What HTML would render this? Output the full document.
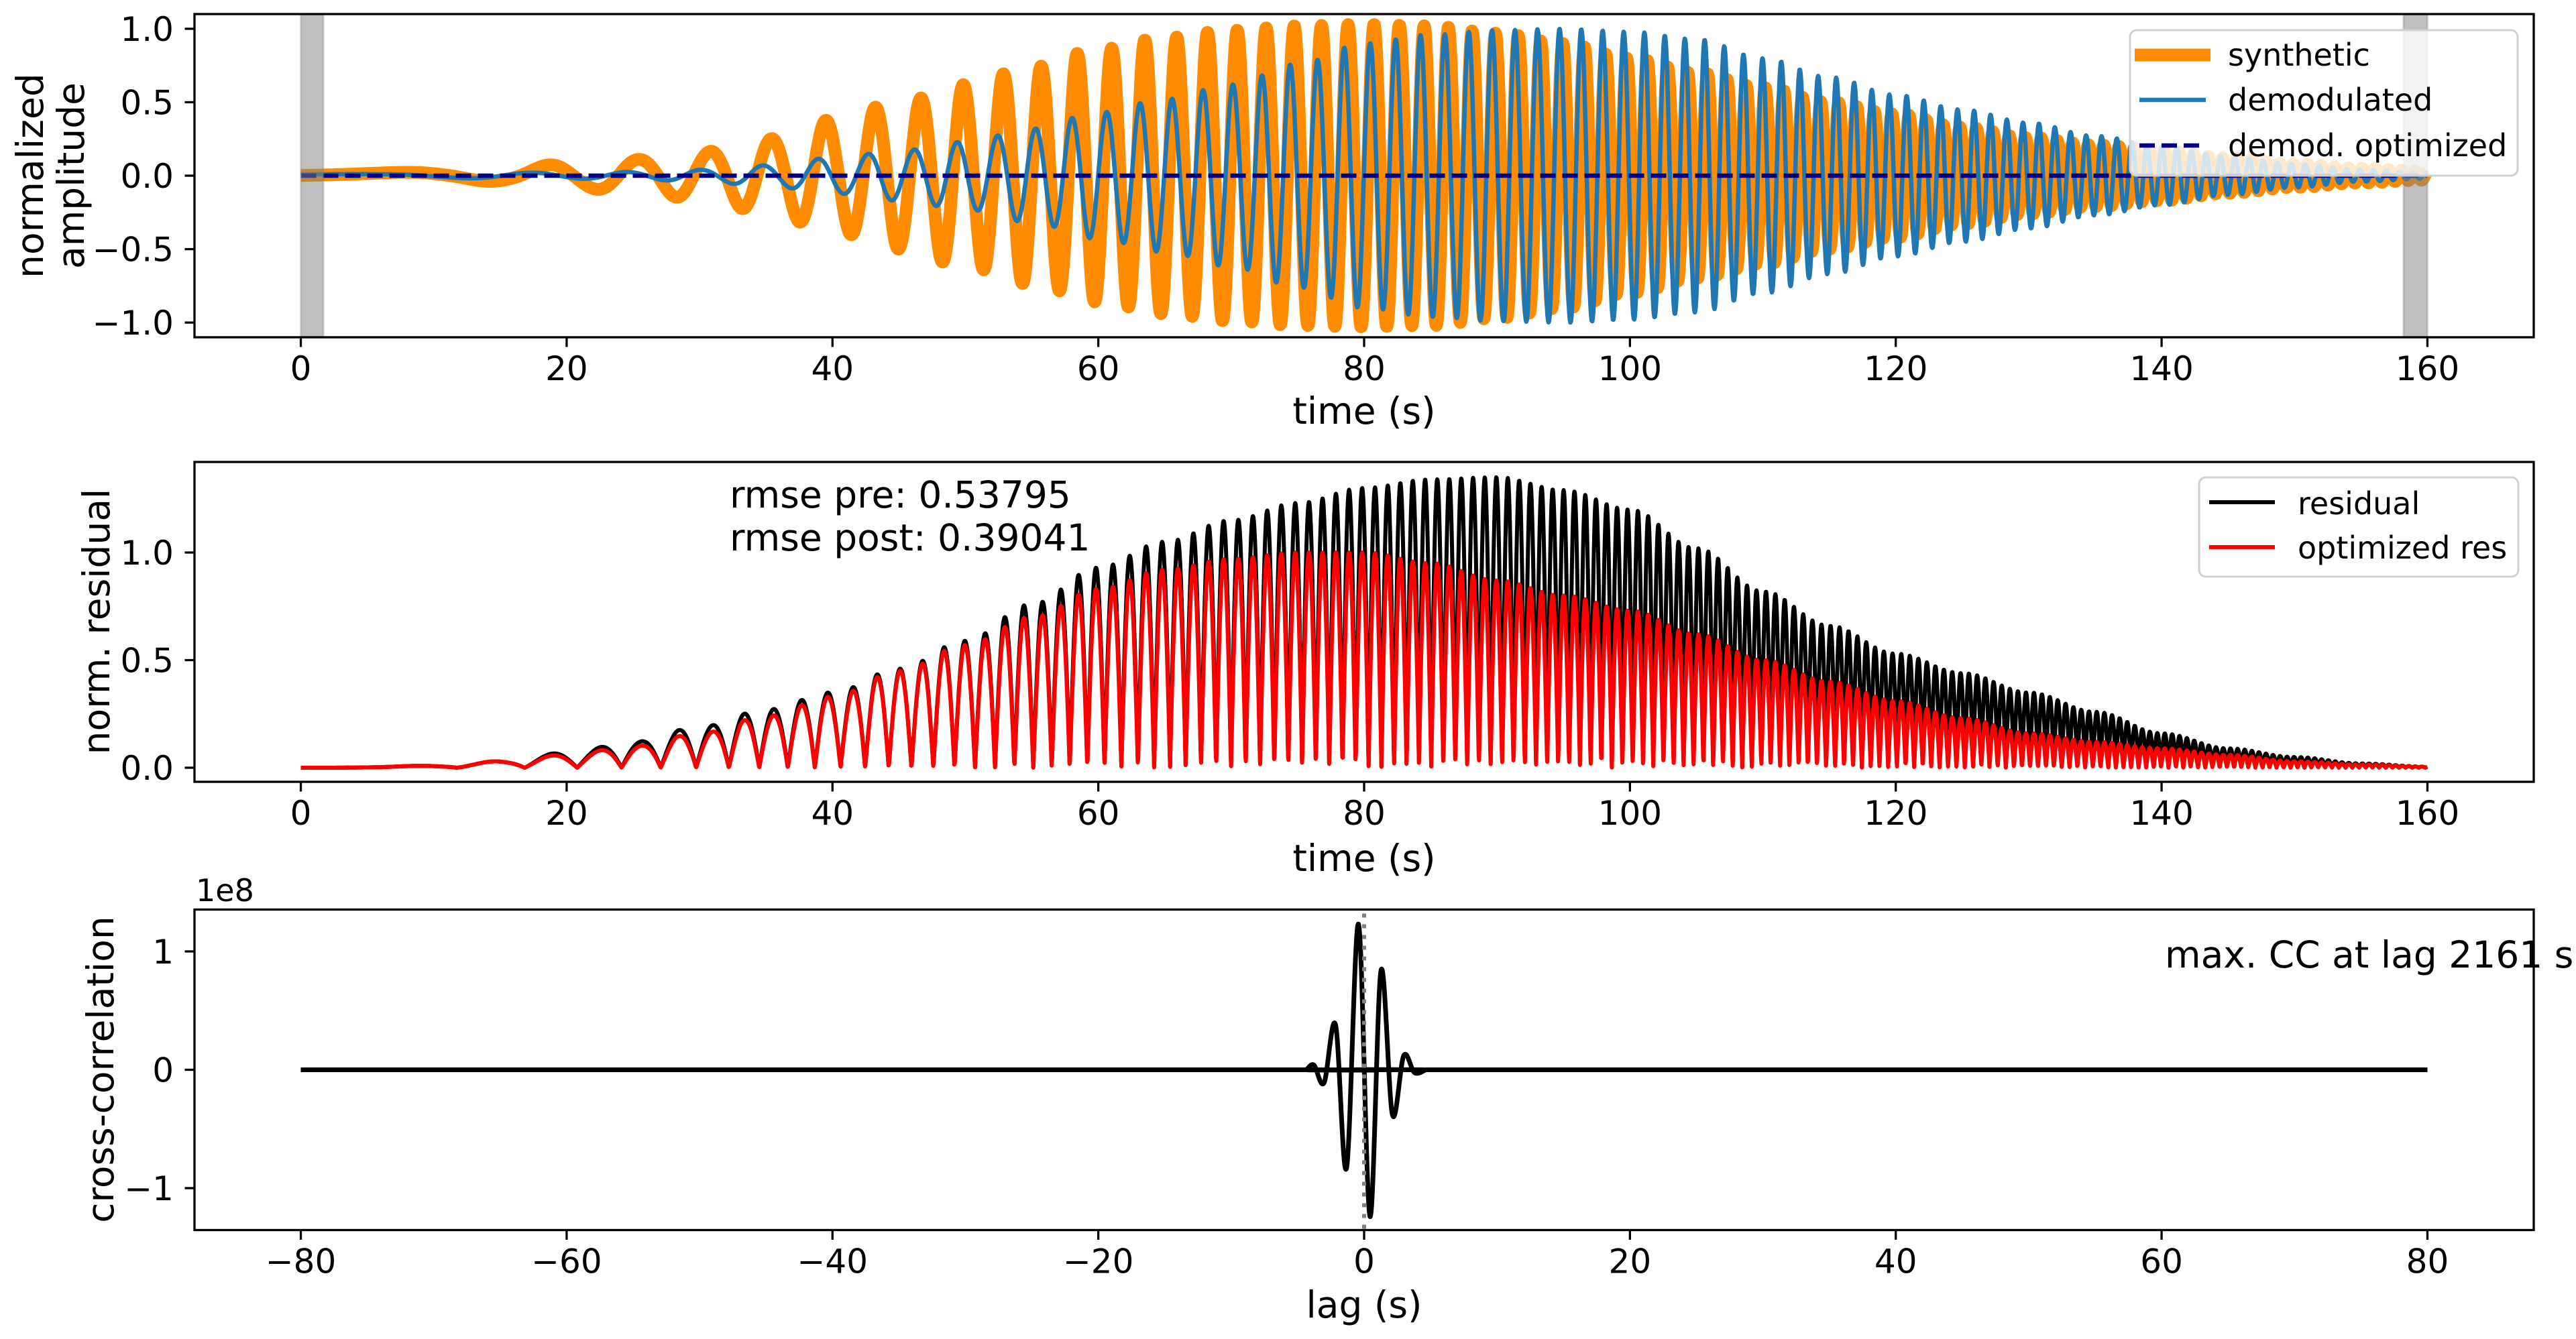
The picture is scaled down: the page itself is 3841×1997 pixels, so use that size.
<!DOCTYPE html>
<html><head><meta charset="utf-8"><style>
html,body{margin:0;padding:0;background:#fff;}
svg{display:block;font-family:"DejaVu Sans","Liberation Sans",sans-serif;}
</style></head>
<body>
<svg id="fig" width="3841" height="1997" viewBox="0 0 3841 1997" xmlns="http://www.w3.org/2000/svg">
<rect width="3841" height="1997" fill="#fff"/>
</svg>
<script>
// ---------- data ----------
const envTimes   = [0,5,10,15,20,25,30,35,40,45,50,55,60,65,70,75,80,85,90,95,100,105,110,115,120,125,130,135,140,145,150,155,160];
const synthEnv   = [0.02,0.02,0.025,0.04,0.08,0.11,0.16,0.25,0.38,0.5,0.62,0.74,0.86,0.94,0.99,1.02,1.03,1.02,0.97,0.9,0.8,0.7,0.6,0.5,0.42,0.33,0.26,0.21,0.17,0.12,0.08,0.05,0.03];
const demodEnv   = [0.01,0.01,0.015,0.02,0.02,0.025,0.04,0.07,0.12,0.17,0.23,0.32,0.43,0.52,0.62,0.76,0.9,0.96,0.99,1.0,0.98,0.93,0.8,0.67,0.55,0.45,0.36,0.27,0.2,0.13,0.08,0.04,0.02];
const residEnv   = [0,0.003,0.01,0.03,0.07,0.12,0.19,0.27,0.35,0.46,0.59,0.76,0.93,1.05,1.15,1.23,1.3,1.34,1.35,1.29,1.2,1.02,0.82,0.66,0.53,0.44,0.35,0.26,0.16,0.09,0.05,0.02,0.005];
const optResEnv  = [0,0.003,0.01,0.03,0.06,0.1,0.16,0.24,0.33,0.45,0.57,0.7,0.83,0.92,0.97,1.0,1.0,0.95,0.87,0.8,0.73,0.62,0.5,0.4,0.31,0.23,0.16,0.12,0.09,0.06,0.03,0.015,0.005];
const chirpA = 0.0076, chirpB = 0.003163;   // carrier phase (cycles) = a*t + b*t^2
const synthPhase0 = 0.236, demodPhase0 = 0.09, residPhase0 = 0.275;
const optimizedLevel = [0, 0];
const taperSpans = [[0, 1.7], [158.2, 160]];
const ccLags   = [-80,-4.6,-4.36,-3.78,-3.01,-2.15,-1.32,-0.42,0.44,1.27,2.13,2.98,3.80,4.67,5.0,80];
const ccValues = [0,0,0.0,0.04,-0.11,0.38,-0.83,1.23,-1.24,0.84,-0.38,0.12,-0.025,0,0,0];
const ccMaxLag = 0;
const timeTicks = [0,20,40,60,80,100,120,140,160];
const ampTicks  = [-1.0,-0.5,0.0,0.5,1.0];
const resTicks  = [0.0,0.5,1.0];
const lagTicks  = [-80,-60,-40,-20,0,20,40,60,80];
const ccTicks   = [-1,0,1];

// ---------- helpers ----------
const NS = "http://www.w3.org/2000/svg";
const svg = document.getElementById('fig');
function el(tag, attrs, parent){ const e=document.createElementNS(NS,tag); for(const k in attrs) e.setAttribute(k,attrs[k]); (parent||svg).appendChild(e); return e; }
function txt(s, attrs, parent){ const e=el('text',attrs,parent); e.textContent=s; return e; }
function envAt(arr, t){
  if(t<=envTimes[0]) return arr[0];
  for(let i=1;i<envTimes.length;i++){ if(t<=envTimes[i]){ const u=(t-envTimes[i-1])/(envTimes[i]-envTimes[i-1]); const w=(1-Math.cos(Math.PI*u))/2; return arr[i-1]*(1-w)+arr[i]*w; } }
  return arr[arr.length-1];
}
function phase(t){ return chirpA*t + chirpB*t*t; }
function makeAxis(x0,x1,y0,y1,xmin,xmax,ymin,ymax){
  return { x0,x1,y0,y1, sx:v=>x0+(v-xmin)/(xmax-xmin)*(x1-x0), sy:v=>y1-(v-ymin)/(ymax-ymin)*(y1-y0) };
}
function seriesPath(ax, f, t0, t1, dt){
  let d=''; for(let t=t0;t<=t1+1e-9;t+=dt){ d+=(d?'L':'M')+ax.sx(t).toFixed(1)+' '+ax.sy(f(t)).toFixed(1); } return d;
}
function frame(ax, name){
  const r = el('rect',{x:ax.x0,y:ax.y0,width:ax.x1-ax.x0,height:ax.y1-ax.y0,fill:'none',stroke:'#000','stroke-width':3.3});
  
  
}
function xTicks(ax, ticks, fmt, name){
  const g = el('g',{});
  
  
  ticks.forEach(v=>{ const x=ax.sx(v);
    el('line',{x1:x,x2:x,y1:ax.y1,y2:ax.y1+14.5,stroke:'#000','stroke-width':3.3},g);
    txt(fmt(v),{x:x,y:ax.y1+64,'font-size':50,'text-anchor':'middle'},g); });
}
function yTicks(ax, ticks, fmt, name){
  const g = el('g',{});
  
  
  ticks.forEach(v=>{ const y=ax.sy(v);
    el('line',{x1:ax.x0-14.5,x2:ax.x0,y1:y,y2:y,stroke:'#000','stroke-width':3.3},g);
    txt(fmt(v),{x:ax.x0-31,y:y+18,'font-size':50,'text-anchor':'end'},g); });
}
const neg = s => s.replace('-','\u2212');
const f1 = v => neg(v.toFixed(1));
const f0 = v => neg(String(v));

const XL = 290, XR = 3778;

// ---------- panel 1 ----------
const A1 = makeAxis(XL,XR,21,503,-8,168,-1.1,1.1);
const clip1 = el('clipPath',{id:'c1'}); el('rect',{x:A1.x0,y:A1.y0,width:A1.x1-A1.x0,height:A1.y1-A1.y0},clip1);
const g1 = el('g',{'clip-path':'url(#c1)'});


let p = el('path',{d:seriesPath(A1,t=>envAt(synthEnv,t)*Math.cos(2*Math.PI*(phase(t)-synthPhase0)),0,160,0.04),fill:'none',stroke:'#ff8c00','stroke-width':19,'stroke-linejoin':'round'},g1);


p = el('path',{d:seriesPath(A1,t=>envAt(demodEnv,t)*Math.cos(2*Math.PI*(phase(t)-demodPhase0)),0,160,0.04),fill:'none',stroke:'#1f77b4','stroke-width':6.5,'stroke-linejoin':'round'},g1);


p = el('line',{x1:A1.sx(0),x2:A1.sx(160),y1:A1.sy(optimizedLevel[0]),y2:A1.sy(optimizedLevel[1]),stroke:'#000080','stroke-width':6.5,'stroke-dasharray':'23 10'},g1);


taperSpans.forEach((s,i)=>{
  const r = el('rect',{x:A1.sx(s[0]),y:A1.y0,width:A1.sx(s[1])-A1.sx(s[0]),height:A1.y1-A1.y0,fill:'rgba(128,128,128,0.5)',stroke:'rgba(128,128,128,0.3)','stroke-width':3},g1);
  
  
});
frame(A1,'amplitude');
xTicks(A1,timeTicks,f0,'amplitude');
yTicks(A1,ampTicks,f1,'amplitude');
let t = txt('time (s)',{x:(A1.x0+A1.x1)/2,y:632,'font-size':55,'text-anchor':'middle'});


t = el('text',{transform:'translate(64,262) rotate(-90)','font-size':55,'text-anchor':'middle'});
t.textContent='normalized';


t = el('text',{transform:'translate(125,262) rotate(-90)','font-size':55,'text-anchor':'middle'});
t.textContent='amplitude';


// legend 1
const L1 = el('g',{});


el('rect',{x:3176,y:45,width:578,height:217,rx:10,fill:'rgba(255,255,255,0.8)',stroke:'#d0d0d0','stroke-width':3},L1);
el('line',{x1:3183,x2:3296,y1:82,y2:82,stroke:'#ff8c00','stroke-width':19},L1);
el('line',{x1:3190,x2:3289,y1:149,y2:149,stroke:'#1f77b4','stroke-width':6.5},L1);
el('line',{x1:3190,x2:3289,y1:217,y2:217,stroke:'#000080','stroke-width':6.5,'stroke-dasharray':'23 10'},L1);
txt('synthetic',{x:3322,y:98,'font-size':46},L1);
txt('demodulated',{x:3322,y:165,'font-size':46},L1);
txt('demod. optimized',{x:3322,y:233,'font-size':46},L1);

// ---------- panel 2 ----------
const A2 = makeAxis(XL,XR,689,1166,-8,168,-0.0654,1.4206);
const g2 = el('g',{});


p = el('path',{d:seriesPath(A2,t=>Math.abs(envAt(residEnv,t)*Math.cos(2*Math.PI*(phase(t)-residPhase0))),0,160,0.03),fill:'none',stroke:'#000','stroke-width':6,'stroke-linejoin':'round'},g2);


p = el('path',{d:seriesPath(A2,t=>Math.abs(envAt(optResEnv,t)*Math.cos(2*Math.PI*(phase(t)-residPhase0))),0,160,0.03),fill:'none',stroke:'#ff0000','stroke-width':6,'stroke-linejoin':'round'},g2);


frame(A2,'residual');
xTicks(A2,timeTicks,f0,'residual');
yTicks(A2,resTicks,f1,'residual');
t = txt('time (s)',{x:(A2.x0+A2.x1)/2,y:1299,'font-size':55,'text-anchor':'middle'});


t = el('text',{transform:'translate(163,927) rotate(-90)','font-size':55,'text-anchor':'middle'});
t.textContent='norm. residual';


t = txt('rmse pre: 0.53795',{x:1088,y:757,'font-size':55});


t = txt('rmse post: 0.39041',{x:1088,y:821,'font-size':55});


const L2 = el('g',{});


el('rect',{x:3279,y:712,width:476,height:148,rx:10,fill:'rgba(255,255,255,0.8)',stroke:'#d0d0d0','stroke-width':3},L2);
el('line',{x1:3294,x2:3392,y1:749,y2:749,stroke:'#000','stroke-width':6},L2);
el('line',{x1:3294,x2:3392,y1:816,y2:816,stroke:'#ff0000','stroke-width':6},L2);
txt('residual',{x:3426,y:767,'font-size':46},L2);
txt('optimized res',{x:3426,y:833,'font-size':46},L2);

// ---------- panel 3 ----------
const A3 = makeAxis(XL,XR,1356.5,1834.5,-88,88,-1.354,1.354);
function catmull(ax, xs, ys){
  const P = xs.map((x,i)=>[ax.sx(x),ax.sy(ys[i])]);
  let d='M'+P[0][0].toFixed(1)+' '+P[0][1].toFixed(1);
  for(let i=0;i<P.length-1;i++){
    const p0=P[Math.max(0,i-1)], p1=P[i], p2=P[i+1], p3=P[Math.min(P.length-1,i+2)];
    const c1=[p1[0]+(p2[0]-p0[0])/6, p1[1]+(p2[1]-p0[1])/6];
    const c2=[p2[0]-(p3[0]-p1[0])/6, p2[1]-(p3[1]-p1[1])/6];
    if(Math.abs(p2[0]-p1[0])>200){ d+='L'+p2[0].toFixed(1)+' '+p2[1].toFixed(1); continue; }
    d+='C'+c1[0].toFixed(1)+' '+c1[1].toFixed(1)+' '+c2[0].toFixed(1)+' '+c2[1].toFixed(1)+' '+p2[0].toFixed(1)+' '+p2[1].toFixed(1);
  }
  return d;
}
p = el('path',{d:catmull(A3,ccLags,ccValues),fill:'none',stroke:'#000','stroke-width':7,'stroke-linejoin':'round'});


p = el('line',{x1:A3.sx(ccMaxLag),x2:A3.sx(ccMaxLag),y1:A3.y0+6,y2:A3.y1,stroke:'#808080','stroke-width':6,'stroke-dasharray':'6 10'});


frame(A3,'cross-correlation');
xTicks(A3,lagTicks,f0,'cross-correlation');
yTicks(A3,ccTicks,f0,'cross-correlation');
t = txt('1e8',{x:292,y:1344,'font-size':46});


t = txt('lag (s)',{x:(A3.x0+A3.x1)/2,y:1965,'font-size':55,'text-anchor':'middle'});


t = el('text',{transform:'translate(169,1595) rotate(-90)','font-size':55,'text-anchor':'middle'});
t.textContent='cross-correlation';


t = txt('max. CC at lag 2161 s',{x:3228,y:1443,'font-size':55});


</script>
</body></html>
